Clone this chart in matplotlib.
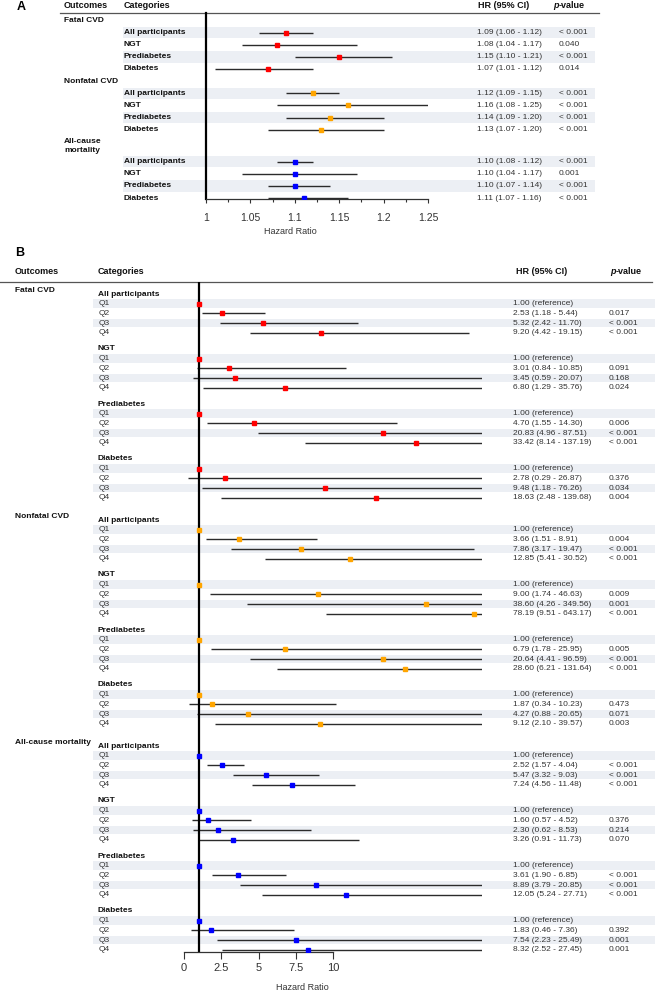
import numpy as np
import matplotlib.pyplot as plt
from matplotlib.ticker import MultipleLocator, FixedLocator, FuncFormatter

plt.rcParams['font.family'] = ['Liberation Sans', 'DejaVu Sans']

# ---------------- data ----------------
outcomes = ['Fatal CVD', 'Nonfatal CVD', 'All-cause mortality']
groups = ['All participants', 'NGT', 'Prediabetes', 'Diabetes']
colors = ['#FF0000', '#FFA500', '#0000FF']

# panel A: per-SD hazard ratios
a_hr = [[1.09, 1.08, 1.15, 1.07],
        [1.12, 1.16, 1.14, 1.13],
        [1.10, 1.10, 1.10, 1.11]]
a_lo = [[1.06, 1.04, 1.10, 1.01],
        [1.09, 1.08, 1.09, 1.07],
        [1.08, 1.04, 1.07, 1.07]]
a_hi = [[1.12, 1.17, 1.21, 1.12],
        [1.15, 1.25, 1.20, 1.20],
        [1.12, 1.17, 1.14, 1.16]]
a_p = [['< 0.001', '0.040', '< 0.001', '0.014'],
       ['< 0.001', '< 0.001', '< 0.001', '< 0.001'],
       ['< 0.001', '0.001', '< 0.001', '< 0.001']]

# panel B: quartiles Q2-Q4 vs Q1 (reference)
quartiles = ['Q1', 'Q2', 'Q3', 'Q4']
b_hr = [[[2.53, 5.32, 9.20], [3.01, 3.45, 6.80], [4.70, 20.83, 33.42], [2.78, 9.48, 18.63]],
        [[3.66, 7.86, 12.85], [9.00, 38.60, 78.19], [6.79, 20.64, 28.60], [1.87, 4.27, 9.12]],
        [[2.52, 5.47, 7.24], [1.60, 2.30, 3.26], [3.61, 8.89, 12.05], [1.83, 7.54, 8.32]]]
b_lo = [[[1.18, 2.42, 4.42], [0.84, 0.59, 1.29], [1.55, 4.96, 8.14], [0.29, 1.18, 2.48]],
        [[1.51, 3.17, 5.41], [1.74, 4.26, 9.51], [1.78, 4.41, 6.21], [0.34, 0.88, 2.10]],
        [[1.57, 3.32, 4.56], [0.57, 0.62, 0.91], [1.90, 3.79, 5.24], [0.46, 2.23, 2.52]]]
b_hi = [[[5.44, 11.70, 19.15], [10.85, 20.07, 35.76], [14.30, 87.51, 137.19], [26.87, 76.26, 139.68]],
        [[8.91, 19.47, 30.52], [46.63, 349.56, 643.17], [25.95, 96.59, 131.64], [10.23, 20.65, 39.57]],
        [[4.04, 9.03, 11.48], [4.52, 8.53, 11.73], [6.85, 20.85, 27.71], [7.36, 25.49, 27.45]]]
b_p = [[['0.017', '< 0.001', '< 0.001'], ['0.091', '0.168', '0.024'],
        ['0.006', '< 0.001', '< 0.001'], ['0.376', '0.034', '0.004']],
       [['0.004', '< 0.001', '< 0.001'], ['0.009', '0.001', '< 0.001'],
        ['0.005', '< 0.001', '< 0.001'], ['0.473', '0.071', '0.003']],
       [['< 0.001', '< 0.001', '< 0.001'], ['0.376', '0.214', '0.070'],
        ['< 0.001', '< 0.001', '< 0.001'], ['0.392', '0.001', '0.001']]]

# ---------------- figure ----------------
W, H = 656, 992
fig = plt.figure(figsize=(W / 100, H / 100), dpi=100)
bg = fig.add_axes([0, 0, 1, 1])
bg.set_xlim(0, W)
bg.set_ylim(H, 0)
bg.axis('off')

BAND = '#ECEFF4'
TXT = '#333333'
LINE = '#2b2b2b'


def px_axes(x0, y0, x1, y1):
    ax = fig.add_axes([x0 / W, 1 - y1 / H, (x1 - x0) / W, (y1 - y0) / H])
    ax.patch.set_alpha(0)
    for s in ['top', 'right']:
        ax.spines[s].set_visible(False)
    ax.set_yticks([])
    return ax


def header(x_out, x_cat, x_hr, x_p, y, size):
    kw = dict(va='center', fontsize=size, fontweight='bold', color='#111111')
    bg.text(x_out, y, 'Outcomes', **kw)
    bg.text(x_cat, y, 'Categories', **kw)
    bg.text(x_hr, y, 'HR (95% CI)', **kw)
    bg.text(x_p, y, 'p', fontstyle='italic', **kw)
    bg.text(x_p + size * 0.85, y, '-value', **kw)


# ================= panel A =================
bg.text(17, 7, 'A', fontsize=9, fontweight='bold', va='center')
header(64, 124, 478, 553, 5.5, 6.5)
bg.plot([60, 599], [12.7, 12.7], color='#555555', lw=0.9)

a_start = [32.7, 93.3, 161.7]
a_step = 12.1
axA = px_axes(206, 13, 428, 199)
axA.set_xlim(1, 1.25)
axA.set_ylim(199, 13)

for o, out in enumerate(outcomes):
    if o < 2:
        bg.text(64, a_start[o] - a_step, out, va='center', fontsize=6, fontweight='bold', color='#111111')
    else:
        bg.text(64, 141.5, 'All-cause', va='center', fontsize=6, fontweight='bold', color='#111111')
        bg.text(64, 150, 'mortality', va='center', fontsize=6, fontweight='bold', color='#111111')
    for g, grp in enumerate(groups):
        y = a_start[o] + g * a_step
        if g in (0, 2):
            bg.barh(y, 595 - 123, left=123, height=11.5, color=BAND, zorder=0)
        bg.text(124, y, grp, va='center', fontsize=6, fontweight='bold', color='#111111')
        bg.text(477, y, f'{a_hr[o][g]:.2f} ({a_lo[o][g]:.2f} - {a_hi[o][g]:.2f})',
                va='center', fontsize=6, color=TXT)
        bg.text(559, y, a_p[o][g], va='center', fontsize=6, color=TXT)
        axA.hlines(y, a_lo[o][g], a_hi[o][g], color=LINE, lw=1.0)
        axA.plot(a_hr[o][g], y, 's', ms=2.9, color=colors[o], zorder=3)

axA.spines['left'].set_linewidth(1.6)
axA.spines['left'].set_color('black')
axA.spines['bottom'].set_linewidth(0.9)
axA.spines['bottom'].set_color('#333333')
axA.xaxis.set_major_locator(MultipleLocator(0.05))
axA.xaxis.set_minor_locator(MultipleLocator(0.025))
axA.xaxis.set_major_formatter(FuncFormatter(lambda v, _: f'{v:g}'))
axA.tick_params(axis='x', which='major', length=3, width=0.8, labelsize=7.5, pad=7, colors='#333333')
axA.tick_params(axis='x', which='minor', length=2.5, width=0.8, colors='#333333')
bg.text(290, 232, 'Hazard Ratio', ha='center', va='center', fontsize=6.5, color=TXT)

# ================= panel B =================
bg.text(15, 253, 'B', fontsize=9, fontweight='bold', va='center')
header(15, 98, 516, 610, 272, 6.5)
bg.plot([0, 652], [282, 282], color='#555555', lw=0.9)

b_first = 294
grp_step = 55
out_step = 226
q_step = 9.7
axB = px_axes(184, 282, 482, 952)
axB.set_xlim(0, 20)
axB.set_ylim(952, 282)


def marker_x(v):
    # the source figure squeezes point estimates above 10 toward the clipped edge
    return v if v <= 10 else 10 + 4.6 * np.log(v / 10)


for o, out in enumerate(outcomes):
    y0 = b_first + o * out_step
    bg.text(15, y0 - 4, out, va='center', fontsize=6, fontweight='bold', color='#111111')
    for g, grp in enumerate(groups):
        yh = y0 + g * grp_step
        bg.text(98, yh, grp, va='center', fontsize=6, fontweight='bold', color='#111111')
        for q, qn in enumerate(quartiles):
            y = yh + (q + 1) * q_step
            if q in (0, 2):
                bg.barh(y, 655 - 93, left=93, height=8.5, color=BAND, zorder=0)
            bg.text(99, y, qn, va='center', fontsize=6, color=TXT)
            if q == 0:
                bg.text(513, y, '1.00 (reference)', va='center', fontsize=6, color=TXT)
                axB.plot(1.0, y, 's', ms=2.4, color=colors[o], zorder=3)
                continue
            hr, lo, hi = b_hr[o][g][q - 1], b_lo[o][g][q - 1], b_hi[o][g][q - 1]
            bg.text(513, y, f'{hr:.2f} ({lo:.2f} - {hi:.2f})', va='center', fontsize=6, color=TXT)
            bg.text(609, y, b_p[o][g][q - 1], va='center', fontsize=6, color=TXT)
            axB.hlines(y, lo, hi, color=LINE, lw=1.0)
            axB.plot(marker_x(hr), y, 's', ms=2.4, color=colors[o], zorder=3)

axB.spines['left'].set_visible(False)
axB.axvline(1, color='black', lw=1.6, zorder=2)
axB.spines['bottom'].set_bounds(0, 10)
axB.spines['bottom'].set_linewidth(0.9)
axB.spines['bottom'].set_color('#333333')
axB.xaxis.set_major_locator(FixedLocator([0, 2.5, 5, 7.5, 10]))
axB.xaxis.set_major_formatter(FuncFormatter(lambda v, _: f'{v:g}'))
axB.tick_params(axis='x', length=5, width=0.8, labelsize=8, pad=3, colors='#333333')
bg.text(302, 987, 'Hazard Ratio', ha='center', va='center', fontsize=6.5, color=TXT)

fig.savefig('out.png', dpi=100)
